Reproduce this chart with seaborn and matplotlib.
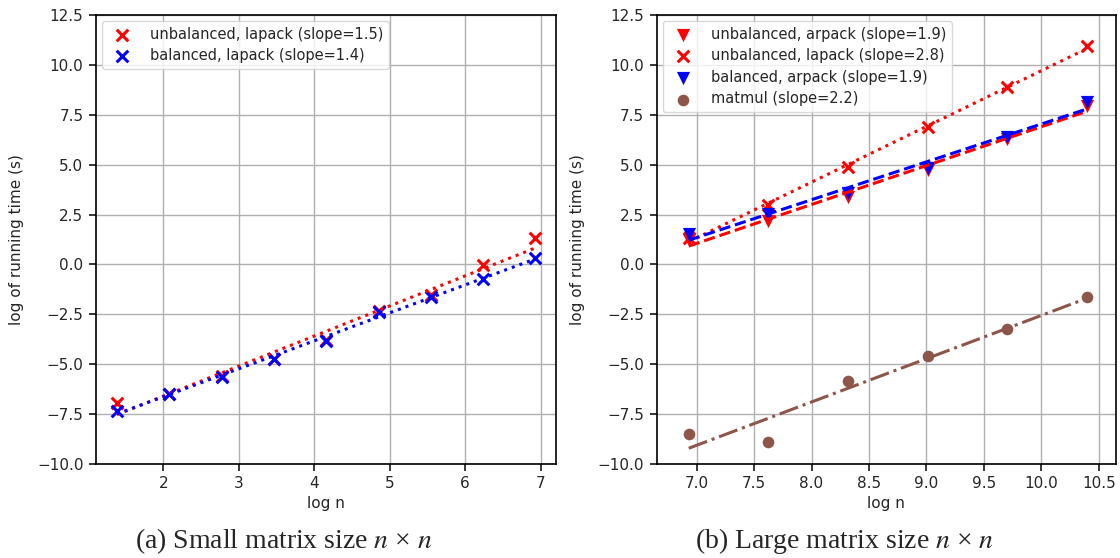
import numpy as np
import matplotlib
matplotlib.use("Agg")
import matplotlib.pyplot as plt
import seaborn as sns

# ---- data ----
small_logn = [1.386, 2.079, 2.773, 3.466, 4.159, 4.852, 5.545, 6.238, 6.931]
small_unbal_lapack = [-6.92, -6.47, -5.58, -4.72, -3.80, -2.35, -1.55, -0.05, 1.32]
small_bal_lapack = [-7.34, -6.47, -5.63, -4.74, -3.85, -2.40, -1.61, -0.74, 0.34]

large_logn = [6.931, 7.625, 8.318, 9.011, 9.704, 10.397]
large_unbal_arpack = [1.22, 2.20, 3.40, 4.72, 6.30, 7.95]
large_unbal_lapack = [1.34, 2.97, 4.86, 6.88, 8.89, 10.93]
large_bal_arpack = [1.51, 2.55, 3.59, 4.81, 6.40, 8.16]
large_matmul = [-8.52, -8.89, -5.84, -4.58, -3.24, -1.64]

small_labels = ["unbalanced, lapack (slope=1.5)", "balanced, lapack (slope=1.4)"]
large_labels = ["unbalanced, arpack (slope=1.9)", "unbalanced, lapack (slope=2.8)",
                "balanced, arpack (slope=1.9)", "matmul (slope=2.2)"]
y_ticks = [-10.0, -7.5, -5.0, -2.5, 0.0, 2.5, 5.0, 7.5, 10.0, 12.5]
small_xticks = [2, 3, 4, 5, 6, 7]
large_xticks = [7.0, 7.5, 8.0, 8.5, 9.0, 9.5, 10.0, 10.5]

sns.set_theme(style="ticks")
plt.rcParams['font.family'] = ['DejaVu Sans']
plt.rcParams['font.size'] = 11
plt.rcParams['mathtext.fontset'] = 'stix'

fig = plt.figure(figsize=(11.2, 5.58), dpi=100)
W, H = 1120, 558
ax1 = fig.add_axes([96 / W, (H - 464) / H, 460 / W, 449 / H])
ax2 = fig.add_axes([656.7 / W, (H - 464) / H, 459.3 / W, 449 / H])


def series(ax, x, y, color, marker, ls, label, s=70):
    sns.regplot(x=np.array(x), y=np.array(y), ax=ax, ci=None, truncate=True,
                color=color, marker=marker, label=label,
                scatter_kws=dict(s=s, linewidths=2.2 if marker == 'x' else 0, alpha=1, zorder=3),
                line_kws=dict(ls=ls, lw=2.2, zorder=4))


series(ax1, small_logn, small_unbal_lapack, "red", "x", ":", small_labels[0])
series(ax1, small_logn, small_bal_lapack, "blue", "x", ":", small_labels[1])

series(ax2, large_logn, large_unbal_arpack, "red", "v", "--", large_labels[0], s=90)
series(ax2, large_logn, large_unbal_lapack, "red", "x", ":", large_labels[1])
series(ax2, large_logn, large_bal_arpack, "blue", "v", "--", large_labels[2], s=90)
series(ax2, large_logn, large_matmul, "#8c564b", "o", "-.", large_labels[3], s=70)

for ax, xt in ((ax1, small_xticks), (ax2, large_xticks)):
    ax.set_ylim(-10, 12.5)
    ax.set_yticks(y_ticks)
    ax.set_xticks(xt)
    ax.grid(True, color="#b0b0b0", lw=1.0)
    ax.set_axisbelow(True)
    for sp in ax.spines.values():
        sp.set_color("black")
        sp.set_linewidth(1.2)
    ax.tick_params(direction="out", length=5, width=1.1, color="black", labelsize=11, pad=4)
    ax.set_xlabel("log n", fontsize=11, labelpad=3)
    ax.set_ylabel("log of running time (s)", fontsize=11, labelpad=9)
    leg = ax.legend(loc="upper left", fontsize=10.5, frameon=True, scatterpoints=1,
                    handletextpad=0.9, borderaxespad=0.4, labelspacing=0.45)
    leg.get_frame().set_edgecolor("#d0d0d0")

ax1.set_xlim(1.108, 7.203)
ax2.set_xlim(6.652, 10.65)

cap = dict(fontsize=20, family="Liberation Serif", ha="center", va="center")
fig.text(284 / W, 1 - 541 / H, r"(a) Small matrix size $n$ × $n$", **cap)
fig.text(844 / W, 1 - 541 / H, r"(b) Large matrix size $n$ × $n$", **cap)

fig.savefig("out.png", dpi=100)
